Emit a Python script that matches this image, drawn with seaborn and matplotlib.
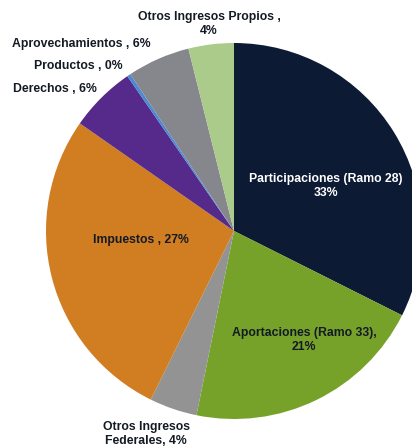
import matplotlib
matplotlib.use("Agg")
import matplotlib.pyplot as plt
import seaborn as sns

categories = ["Participaciones (Ramo 28)", "Aportaciones (Ramo 33)", "Otros Ingresos Federales",
              "Impuestos", "Derechos", "Productos", "Aprovechamientos", "Otros Ingresos Propios"]
shares = [32.4, 20.8, 4.1, 27.4, 5.7, 0.3, 5.4, 3.9]
pct_labels = ["33%", "21%", "4%", "27%", "6%", "0%", "6%", "4%"]
colors = ["#0c1a33", "#76a22a", "#939393", "#d17d22", "#552a8a", "#4a8ad4", "#86878d", "#abcb8b"]

sns.set_style("white")
plt.rcParams["font.family"] = ["Liberation Sans", "DejaVu Sans"]

fig = plt.figure(figsize=(4.12, 4.48), dpi=100)
ax = fig.add_axes([0, 0, 1, 1])
ax.pie(shares, colors=colors, startangle=90, counterclock=False, radius=1,
       wedgeprops=dict(linewidth=0))

# pixel layout of the original: center (234, 231), radius 188
r = 188.0
ax.set_xlim(-234 / r, (412 - 234) / r)
ax.set_ylim(-(448 - 231) / r, 231 / r)
ax.set_aspect("auto")
ax.axis("off")


def px(x, y):
    return (x - 234) / r, (231 - y) / r


fs = 8.8
txt = dict(ha="center", va="center", fontsize=fs, fontweight="bold", linespacing=1.2)
dark = "#141a24"
ax.text(*px(326, 186), f"{categories[0]}\n{pct_labels[0]}", color="white", **txt)
ax.text(*px(304, 340), f"Aportaciones (Ramo 33),\n{pct_labels[1]}", color=dark, **txt)
ax.text(*px(146, 434), f"Otros Ingresos\nFederales, {pct_labels[2]}", color=dark, **txt)
ax.text(*px(141, 240), f"{categories[3]} , {pct_labels[3]}", color=dark, **txt)
ax.text(*px(55, 89), f"{categories[4]} , {pct_labels[4]}", color=dark, **txt)
ax.text(*px(78, 66), f"{categories[5]} , {pct_labels[5]}", color=dark, **txt)
ax.text(*px(81, 44), f"{categories[6]} , {pct_labels[6]}", color=dark, **txt)
ax.text(*px(209, 24), f"{categories[7]} ,\n{pct_labels[7]}", color=dark, **txt)

fig.savefig("out.png", dpi=100)
